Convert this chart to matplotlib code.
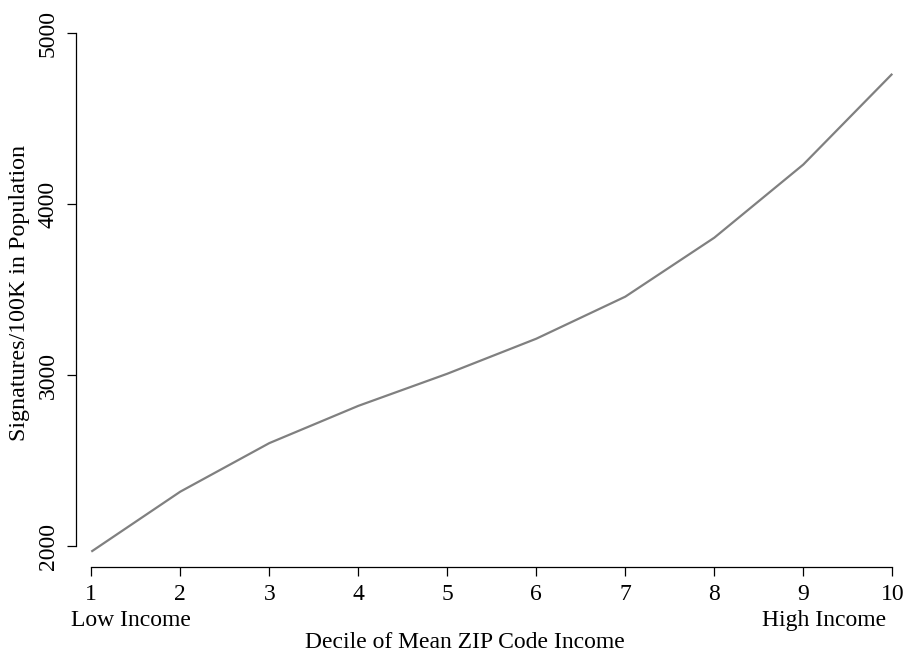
import matplotlib
matplotlib.use("Agg")
import matplotlib.pyplot as plt

deciles = [1, 2, 3, 4, 5, 6, 7, 8, 9, 10]
signatures = [1967, 2318, 2602, 2820, 3008, 3213, 3459, 3804, 4232, 4763]
y_ticks = [2000, 3000, 4000, 5000]

plt.rcParams['font.family'] = ['Liberation Serif', 'DejaVu Serif']
W, H = 906, 653
fig = plt.figure(figsize=(W / 100, H / 100), dpi=100)

left_px, right_px, bottom_px, top_px = 76, 905, 566.7, 20
ax = fig.add_axes([left_px / W, 1 - bottom_px / H, (right_px - left_px) / W, (bottom_px - top_px) / H])

# data-to-pixel mapping
x1_px, x10_px = 91.3, 892.3
ppu_x = (x10_px - x1_px) / 9
y2000_px, y5000_px = 546.0, 33.3
ppu_y = (y2000_px - y5000_px) / 3000
ax.set_xlim(1 - (x1_px - left_px) / ppu_x, 10 + (right_px - x10_px) / ppu_x)
ax.set_ylim(2000 - (bottom_px - y2000_px) / ppu_y, 5000 + (y5000_px - top_px) / ppu_y)

ax.plot(deciles, signatures, color='#808080', lw=1.6, solid_capstyle='butt')

for s in ['top', 'right']:
    ax.spines[s].set_visible(False)
ax.spines['left'].set_bounds(2000, 5000)
ax.spines['bottom'].set_bounds(1, 10)
for s in ['left', 'bottom']:
    ax.spines[s].set_linewidth(0.9)

ax.set_xticks(deciles)
ax.set_xticklabels([str(d) for d in deciles])
ax.set_yticks(y_ticks)
ax.set_yticklabels([str(v) for v in y_ticks], rotation=90, va='center')
ax.tick_params(axis='both', length=6.5, width=0.9, labelsize=17)
ax.tick_params(axis='x', pad=6)
ax.tick_params(axis='y', pad=6)

fig.text(71 / W, 1 - 626 / H, 'Low Income', fontsize=17, ha='left', va='baseline')
fig.text(886 / W, 1 - 626 / H, 'High Income', fontsize=17, ha='right', va='baseline')
fig.text(465 / W, 1 - 648 / H, 'Decile of Mean ZIP Code Income', fontsize=17, ha='center', va='baseline')
fig.text(20 / W, 1 - 293 / H, 'Signatures/100K in Population', fontsize=17.3, ha='center', va='center', rotation=90)

fig.savefig('out.png', dpi=100)
